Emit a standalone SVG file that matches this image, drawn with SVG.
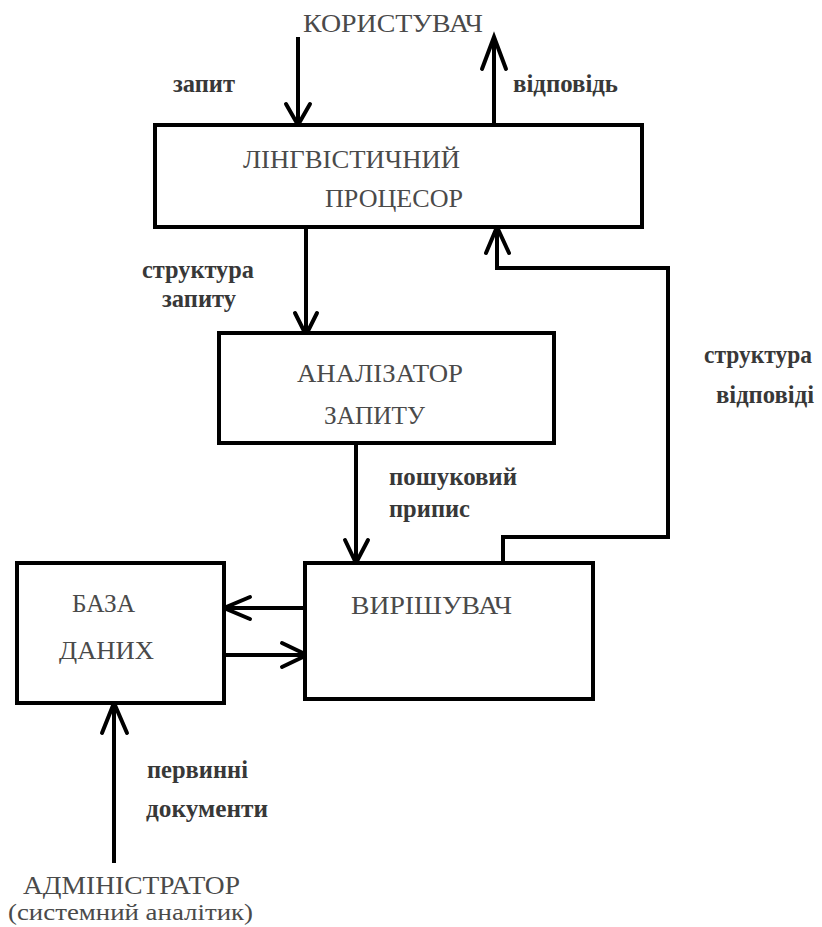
<svg xmlns="http://www.w3.org/2000/svg" width="822" height="927" viewBox="0 0 822 927">
<style>
.box{fill:#fff;stroke:#000;stroke-width:4}
.ln{fill:none;stroke:#000;stroke-width:4;stroke-linejoin:miter}
.hd{fill:none;stroke:#000;stroke-width:4;stroke-linecap:round;stroke-linejoin:miter}
.nt{font-family:"Liberation Serif","Times New Roman",serif;font-size:25.5px;fill:#4a4a4a}
.lb{font-family:"Liberation Serif","Times New Roman",serif;font-size:26px;font-weight:bold;fill:#383838}
</style>
<rect width="822" height="927" fill="#fff"/>
<g id="connectors">
<g id="c-zapyt"><line class="ln" x1="298" y1="37" x2="298" y2="125"/><polyline class="hd" points="286,104 298,125 310,104"/></g>
<g id="c-vidpovid"><line class="ln" x1="494" y1="125" x2="494" y2="39"/><polyline class="hd" points="482,69 494,37 506,69"/></g>
<g id="c-lp-an"><line class="ln" x1="306" y1="227" x2="306" y2="335"/><polyline class="hd" points="295,313 306,335 317,313"/></g>
<g id="c-sol-lp"><polyline class="ln" points="503,563 503,537 668,537 668,268 497,268 497,229"/><polyline class="hd" points="486,253 497,227 509,253"/></g>
<g id="c-an-sol"><line class="ln" x1="356" y1="443" x2="356" y2="563"/><polyline class="hd" points="345,540 356,563 368,540"/></g>
<g id="c-sol-db"><line class="ln" x1="307" y1="608" x2="224" y2="608"/><polyline class="hd" points="250,597 224,608 250,619"/></g>
<g id="c-db-sol"><line class="ln" x1="224" y1="655" x2="307" y2="655"/><polyline class="hd" points="282,643 307,655 282,667"/></g>
<g id="c-adm-db"><line class="ln" x1="114" y1="863" x2="114" y2="705"/><polyline class="hd" points="102,733 114,703 127,733"/></g>
</g>
<g id="labels">
<text class="lb" x="173" y="92" textLength="62" lengthAdjust="spacingAndGlyphs">запит</text>
<text class="lb" x="513" y="92" textLength="105" lengthAdjust="spacingAndGlyphs">відповідь</text>
<text class="lb" x="142" y="278" textLength="112" lengthAdjust="spacingAndGlyphs">структура</text>
<text class="lb" x="162" y="307" textLength="74" lengthAdjust="spacingAndGlyphs">запиту</text>
<text class="lb" x="704" y="363" textLength="108" lengthAdjust="spacingAndGlyphs">структура</text>
<text class="lb" x="716" y="403" textLength="98" lengthAdjust="spacingAndGlyphs">відповіді</text>
<text class="lb" x="389" y="485" textLength="128" lengthAdjust="spacingAndGlyphs">пошуковий</text>
<text class="lb" x="389" y="517" textLength="81" lengthAdjust="spacingAndGlyphs">припис</text>
<text class="lb" x="147" y="778" textLength="101" lengthAdjust="spacingAndGlyphs">первинні</text>
<text class="lb" x="146" y="817" textLength="122" lengthAdjust="spacingAndGlyphs">документи</text>
</g>
<g id="user"><text class="nt" x="303" y="32" textLength="180" lengthAdjust="spacingAndGlyphs">КОРИСТУВАЧ</text></g>
<g id="ling-processor">
<rect class="box" x="155" y="125" width="487" height="102"/>
<text class="nt" x="243" y="168" textLength="217" lengthAdjust="spacingAndGlyphs">ЛІНГВІСТИЧНИЙ</text>
<text class="nt" x="325" y="207" textLength="138" lengthAdjust="spacingAndGlyphs">ПРОЦЕСОР</text>
</g>
<g id="analyzer">
<rect class="box" x="219" y="333" width="335" height="110"/>
<text class="nt" x="297" y="382" textLength="166" lengthAdjust="spacingAndGlyphs">АНАЛІЗАТОР</text>
<text class="nt" x="324" y="424" textLength="101" lengthAdjust="spacingAndGlyphs">ЗАПИТУ</text>
</g>
<g id="database">
<rect class="box" x="17" y="563" width="207" height="140"/>
<text class="nt" x="72" y="612" textLength="63" lengthAdjust="spacingAndGlyphs">БАЗА</text>
<text class="nt" x="59" y="659" textLength="95" lengthAdjust="spacingAndGlyphs">ДАНИХ</text>
</g>
<g id="solver">
<rect class="box" x="305" y="563" width="288" height="136"/>
<text class="nt" x="351" y="614" textLength="161" lengthAdjust="spacingAndGlyphs">ВИРІШУВАЧ</text>
</g>
<g id="administrator">
<text class="nt" x="23" y="894" textLength="217" lengthAdjust="spacingAndGlyphs">АДМІНІСТРАТОР</text>
<text class="nt" x="8" y="920" style="font-size:23.5px" textLength="245" lengthAdjust="spacingAndGlyphs">(системний аналітик)</text>
</g>
</svg>
